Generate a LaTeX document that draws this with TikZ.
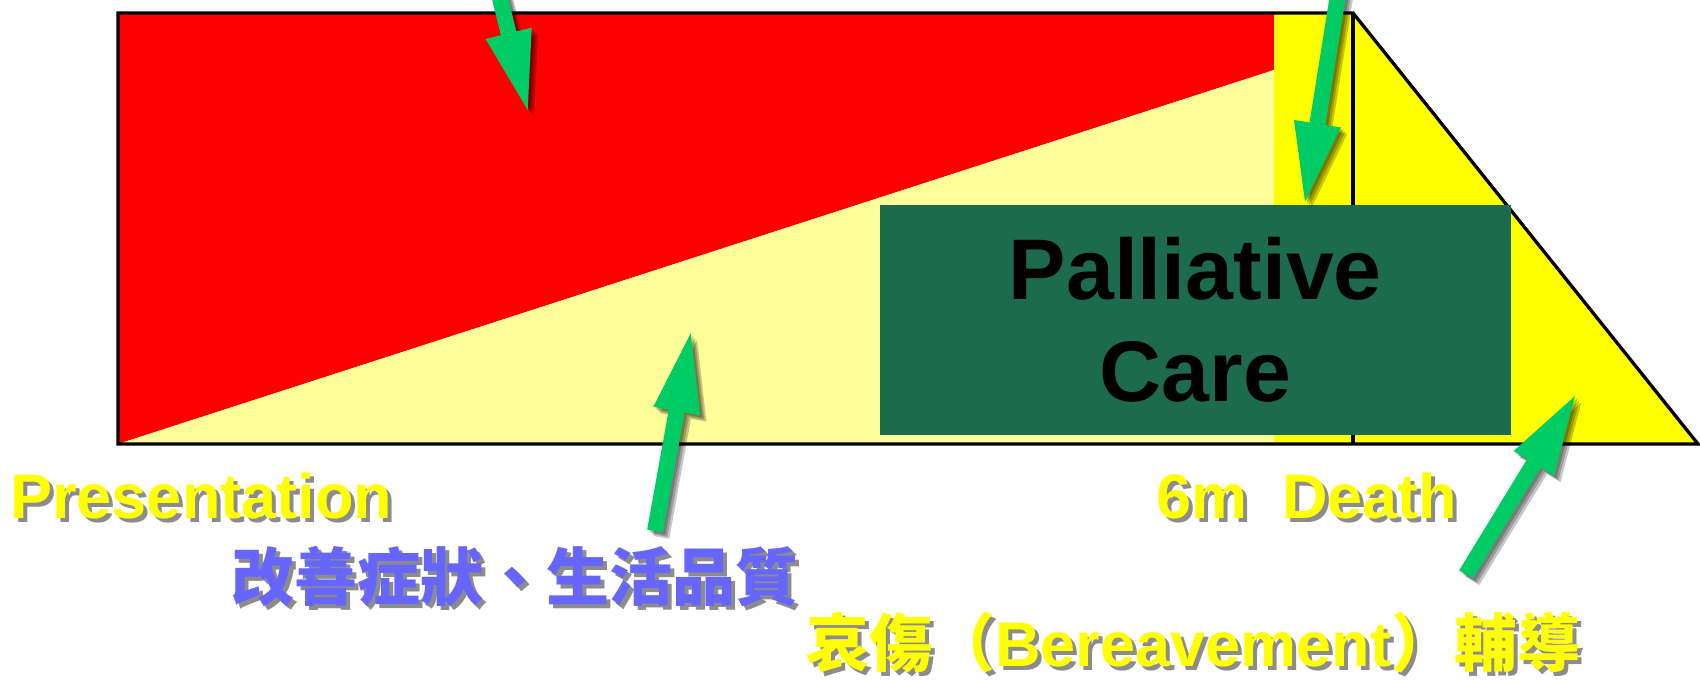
\documentclass[tikz,border=0pt]{standalone}
\usepackage{fontspec}
\setmainfont{Liberation Sans}
\newfontfamily\cjk{Noto Sans CJK TC}
\usetikzlibrary{calc}
\definecolor{myred}{HTML}{FF0000}
\definecolor{lightyel}{HTML}{FFFF99}
\definecolor{brightyel}{HTML}{FFFF00}
\definecolor{arrowgreen}{HTML}{00CC66}
\definecolor{boxgreen}{HTML}{1D6B4F}
\definecolor{cnblue}{HTML}{6666FF}
\definecolor{textshadow}{HTML}{8C8C8C}
% text with a drop shadow, in one node
\newcommand\shtext[1]{\rlap{\kern2pt\raisebox{-2pt}{\color{textshadow}#1}}#1}
% #1 style, #2 tail, #3 tip, #4 base of head
\newcommand\greenarrow[4]{%
  \fill[#1] ($(#2)!4pt!90:(#3)$) -- ($(#4)!4pt!90:(#3)$) -- ($(#4)!11.875pt!90:(#3)$)
    -- (#3) -- ($(#4)!11.875pt!-90:(#3)$) -- ($(#4)!4pt!-90:(#3)$) -- ($(#2)!4pt!-90:(#3)$) -- cycle;}
\newcommand\shadowedarrow[3]{%
  \foreach \s in {1.2,2.2,3.2}{%
    \begin{scope}[transform canvas={shift={(\s pt,-\s pt)}}]
      \greenarrow{black,opacity=0.22}{#1}{#2}{#3}
    \end{scope}}
  \greenarrow{arrowgreen}{#1}{#2}{#3}}
\begin{document}
\begin{tikzpicture}[x=0.5pt,y=-0.5pt,
  frame/.style={draw=black,line width=1.65pt},
  pcbox/.style={fill=boxgreen,minimum width=315.35pt,minimum height=115pt,inner sep=0pt,
    align=center,font=\bfseries\fontsize{43}{51}\selectfont,text=black},
  lbl/.style={inner sep=0pt,anchor=base west,font=\bfseries\fontsize{31.5}{38}\selectfont},
  yel/.style={lbl,text=brightyel},
  cn/.style={font=\cjk\bfseries\fontsize{31.5}{38}\selectfont}]
\useasboundingbox (0,0) rectangle (1700,681);
\clip (0,0) rectangle (1700,681);
% background regions
\fill[myred] (118,13) -- (1274,13) -- (1274,70) -- (118,444) -- cycle;
\fill[lightyel] (118,444) -- (1274,70) -- (1274,444) -- cycle;
\fill[brightyel] (1274,13) -- (1353,13) -- (1698,444) -- (1274,444) -- cycle;
\draw[frame] (118,13) -- (1353,13) -- (1698,444) -- (118,444) -- cycle;
\draw[frame] (1353,13) -- (1353,444);
% palliative care box
\node[pcbox] (pc) at (1195.3,320) {Palliative\\Care};
% arrows
\coordinate (t1) at (484.6,-63.6); \coordinate (p1) at (527.7,110);
\coordinate (t2) at (1340.4,-20);  \coordinate (p2) at (1305,201.7);
\coordinate (t3) at (655,531);     \coordinate (p3) at (690.7,333.3);
\coordinate (t4) at (1466,574.5);  \coordinate (p4) at (1575,396);
\coordinate (b1) at ($(p1)!39.5pt!(t1)$);
\coordinate (b2) at ($(p2)!39.5pt!(t2)$);
\coordinate (b3) at ($(p3)!39.5pt!(t3)$);
\coordinate (b4) at ($(p4)!39.5pt!(t4)$);
\shadowedarrow{t1}{p1}{b1}
\shadowedarrow{t2}{p2}{b2}
\shadowedarrow{t3}{p3}{b3}
\shadowedarrow{t4}{p4}{b4}
% labels
\node[yel] (pres) at (10,518) {\shtext{Presentation}};
\node[yel] (death) at (1156,518) {\shtext{6m\ \ Death}};
\node[lbl,cn,text=cnblue] (qol) at (231,600) {\shtext{改善症狀、生活品質}};
\node[yel] (ber) at (806,666) {\shtext{{\cjk 哀傷（}Bereavement{\cjk ）輔導}}};
\end{tikzpicture}
\end{document}
